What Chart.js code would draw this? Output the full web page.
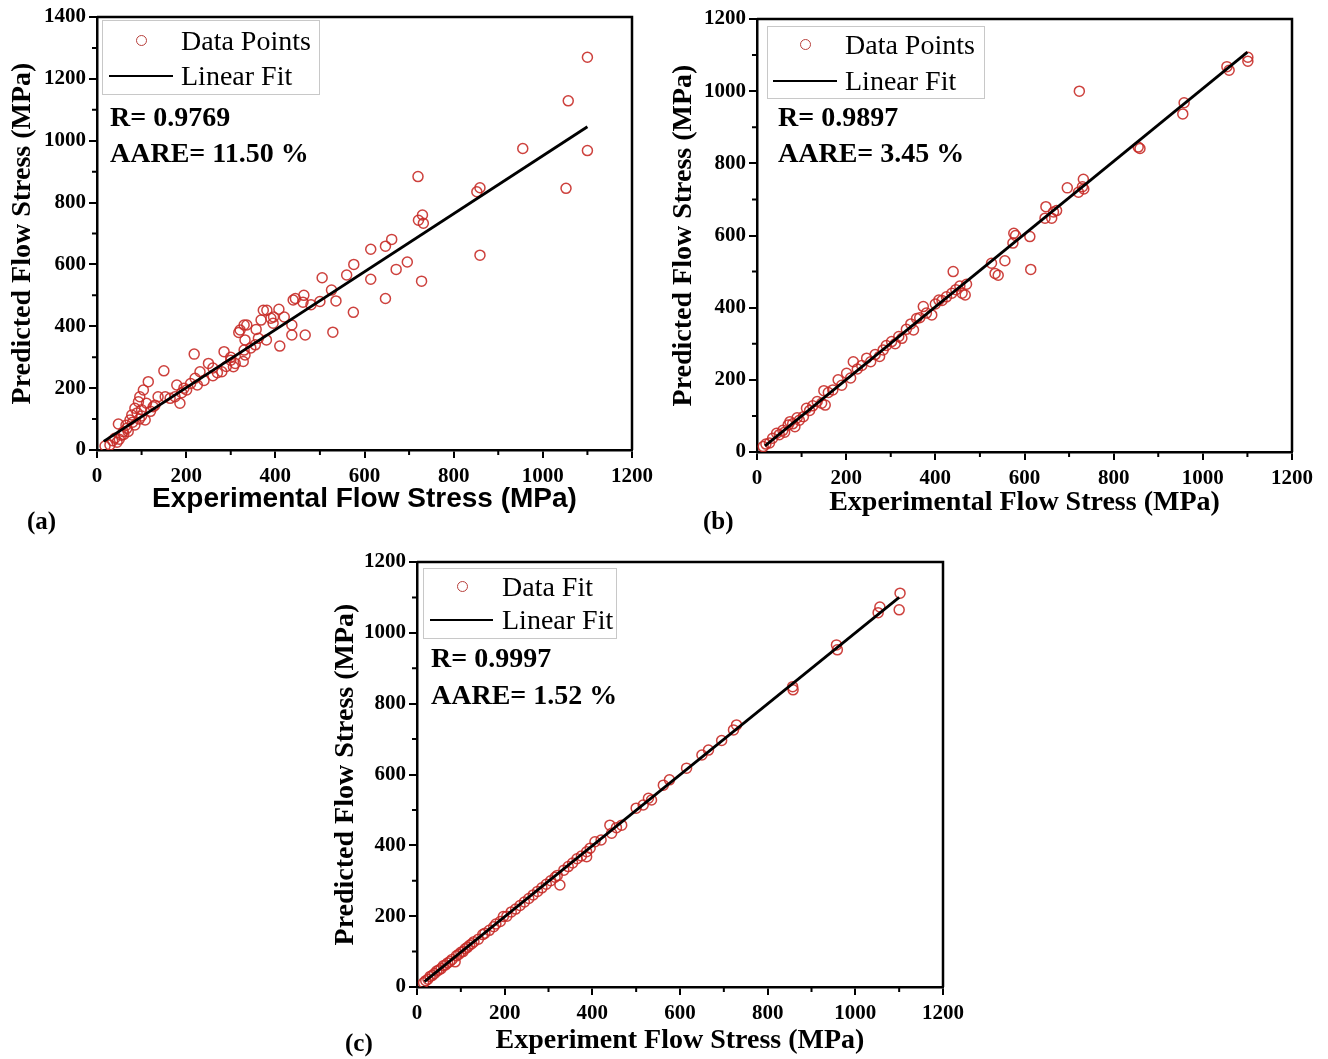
<!DOCTYPE html>
<html>
<head>
<meta charset="utf-8">
<script src="https://cdn.jsdelivr.net/npm/chart.js@4.4.1/dist/chart.umd.min.js"></script>
<style>
  body { margin: 0; background: #fff; }
  #page { position: relative; width: 1328px; height: 1059px; overflow: hidden; background: #fff; }
  canvas { position: absolute; }
  .lbl { position: absolute; font-family: "Liberation Serif", serif; color: #000; white-space: nowrap; line-height: 1; }
  .box { position: absolute; border: 1px solid #c8c8c8; background: #fff; }
  .dot { position: absolute; width: 9px; height: 9px; border: 1.5px solid #b8403c; border-radius: 50%; }
  .seg { position: absolute; height: 0; border-top: 2.5px solid #000; }
</style>
</head>
<body>
<div id="page">
  <canvas id="chartA"></canvas>
  <canvas id="chartB"></canvas>
  <canvas id="chartC"></canvas>
</div>
<script>
// axis ranges and tick values
const xTicks = [0, 200, 400, 600, 800, 1000, 1200];
const yTicksA = [0, 200, 400, 600, 800, 1000, 1200, 1400];
const yTicksBC = [0, 200, 400, 600, 800, 1000, 1200];

// (a) experimental vs predicted
const pointsA = [
  [1100,1270],[1057,1129],[955,975],[1100,968],[1052,846],[720,884],[859,848],[852,835],
  [730,760],[721,743],[732,733],[661,681],[859,630],[728,546],[696,608],[671,584],
  [647,490],[614,649],[647,659],[614,552],[576,600],[560,566],[575,445],[536,482],
  [526,517],[529,381],[505,557],[464,500],[462,478],[440,485],[445,490],[437,404],
  [437,372],[467,372],[408,455],[410,336],[390,426],[396,430],[373,452],[357,390],
  [362,361],[380,356],[381,452],[368,420],[330,404],[318,380],[336,404],[332,356],
  [330,323],[321,388],[332,307],[328,286],[306,269],[285,318],[300,290],[310,280],
  [345,330],[355,340],[395,410],[420,430],[500,480],[480,470],[218,310],[250,280],
  [231,253],[220,232],[280,253],[270,250],[260,240],[240,225],[210,215],[195,200],
  [179,210],[186,151],[175,172],[201,194],[150,256],[153,172],[137,172],[164,167],
  [126,140],[190,185],[225,210],[290,270],[300,300],[260,265],[115,221],[104,194],
  [96,172],[93,156],[111,151],[85,135],[78,113],[108,97],[85,81],[48,84],
  [67,70],[55,48],[40,38],[18,13],[29,16],[74,97],[59,59],[90,120],
  [100,110],[70,60],[60,50],[50,35],[35,30],[45,25],[80,90],[95,100],
  [65,80],[100,130],[120,125],[130,145]
];
const fitA = [[15,28],[1100,1045]];

// (b)
const pointsB = [
  [14,15],[20,22],[28,25],[35,38],[44,52],[50,48],[58,60],[62,55],[70,75],[74,84],
  [80,78],[85,70],[90,95],[95,88],[104,98],[111,121],[118,115],[125,128],[135,140],[145,135],
  [150,170],[153,130],[160,165],[170,172],[182,200],[190,185],[201,218],[210,205],[216,250],[225,230],
  [235,240],[246,260],[255,250],[265,270],[275,265],[283,283],[290,295],[302,306],[310,300],[318,320],
  [325,315],[335,340],[345,355],[351,338],[358,370],[365,372],[373,403],[380,385],[392,380],[400,410],
  [408,421],[415,420],[425,430],[437,440],[440,500],[446,450],[455,460],[460,440],[467,435],[470,465],
  [526,523],[534,495],[541,490],[556,530],[574,579],[576,606],[580,600],[612,597],[614,506],[646,648],
  [648,680],[661,648],[665,665],[672,669],[696,732],[721,720],[723,1000],[730,735],[733,729],[732,756],
  [855,845],[859,841],[955,937],[958,968],[1054,1068],[1059,1058],[1101,1094],[1101,1083]
];
const fitB = [[18,17],[1100,1108]];

// (c)
const pointsC = [
  [15,12],[20,18],[25,22],[30,30],[35,33],[40,38],[45,45],[50,48],[55,52],[60,60],
  [65,62],[70,68],[75,72],[80,78],[87,71],[90,88],[95,92],[100,98],[105,100],[110,108],
  [115,112],[120,118],[125,122],[130,128],[140,135],[150,148],[155,152],[165,160],[175,170],[180,178],
  [190,185],[197,199],[205,200],[215,212],[225,220],[235,230],[245,240],[255,250],[265,260],[275,270],
  [285,280],[295,290],[305,300],[315,310],[320,315],[326,288],[335,330],[345,340],[355,350],[365,362],
  [375,370],[387,368],[387,382],[395,392],[406,410],[420,415],[440,457],[444,434],[455,450],[467,457],
  [500,505],[516,514],[528,533],[535,528],[562,570],[576,585],[615,618],[650,655],[665,669],[695,696],
  [722,726],[729,740],[857,848],[858,839],[957,966],[959,952],[1052,1057],[1056,1073],[1100,1065],[1102,1112]
];
const fitC = [[17,15],[1100,1100]];

const serif = 'Liberation Serif';
const RED = 'rgba(200,44,40,0.9)';

const toXY = arr => arr.map(p => ({ x: p[0], y: p[1] }));

// top/right frame and the short minor ticks
const frameMinor = {
  id: 'frameMinor',
  afterDraw(chart) {
    const { ctx, chartArea: a, scales: { x, y } } = chart;
    ctx.save();
    ctx.strokeStyle = '#000';
    ctx.lineWidth = 2.5;
    ctx.beginPath();
    ctx.moveTo(a.left, a.top);
    ctx.lineTo(a.right, a.top);
    ctx.lineTo(a.right, a.bottom);
    ctx.stroke();
    ctx.lineWidth = 2;
    ctx.beginPath();
    for (let v = 100; v < x.max; v += 200) {
      const px = x.getPixelForValue(v);
      ctx.moveTo(px, a.bottom); ctx.lineTo(px, a.bottom + 5);
    }
    for (let v = 100; v < y.max; v += 200) {
      const py = y.getPixelForValue(v);
      ctx.moveTo(a.left, py); ctx.lineTo(a.left - 5, py);
    }
    ctx.stroke();
    ctx.restore();
  }
};

function makeChart(id, cfg) {
  const cv = document.getElementById(id);
  cv.style.left = cfg.left + 'px';
  cv.style.top = cfg.top + 'px';
  cv.width = cfg.w;
  cv.height = cfg.h;
  cv.style.width = cfg.w + 'px';
  cv.style.height = cfg.h + 'px';
  const tickFont = { family: serif, size: 21, weight: 'bold' };
  return new Chart(cv, {
    type: 'scatter',
    data: {
      datasets: [
        {
          data: toXY(cfg.fit), showLine: true, borderColor: '#000', borderWidth: 2.8,
          pointRadius: 0, order: 0
        },
        {
          data: toXY(cfg.points), showLine: false, pointStyle: 'circle', pointRadius: 5,
          pointBorderWidth: 1.5, borderColor: RED, pointBorderColor: RED,
          pointBackgroundColor: 'rgba(0,0,0,0)', order: 1
        }
      ]
    },
    options: {
      responsive: false,
      animation: false,
      devicePixelRatio: 1,
      layout: { padding: cfg.pad },
      plugins: { legend: { display: false }, tooltip: { enabled: false } },
      scales: {
        x: {
          type: 'linear', min: xTicks[0], max: xTicks[xTicks.length - 1],
          afterBuildTicks: s => { s.ticks = xTicks.map(v => ({ value: v })); },
          afterFit: s => { s.height = cfg.xh; },
          ticks: { color: '#000', font: tickFont, padding: 6, maxRotation: 0, callback: v => String(v) },
          grid: { drawOnChartArea: false, drawTicks: true, tickLength: 8, color: '#000', lineWidth: 2 },
          border: { color: '#000', width: 2.5 },
          title: { display: true, text: cfg.xTitle, color: '#000', font: cfg.xFont, padding: { top: 0, bottom: cfg.xTitlePad } }
        },
        y: {
          type: 'linear', min: cfg.yTicks[0], max: cfg.yTicks[cfg.yTicks.length - 1],
          afterBuildTicks: s => { s.ticks = cfg.yTicks.map(v => ({ value: v })); },
          afterFit: s => { s.width = 97; },
          ticks: { color: '#000', font: tickFont, padding: 3, callback: v => String(v) },
          grid: { drawOnChartArea: false, drawTicks: true, tickLength: 8, color: '#000', lineWidth: 2 },
          border: { color: '#000', width: 2.5 },
          title: { display: true, text: 'Predicted Flow Stress (MPa)', color: '#000', font: { family: serif, size: 28, weight: 'bold' }, padding: { top: cfg.yTitlePad, bottom: 0 } }
        }
      }
    },
    plugins: [frameMinor]
  });
}

makeChart('chartA', {
  left: 0, top: 0, w: 660, h: 540, pad: { left: 0, right: 28, top: 17, bottom: 20 }, xh: 70,
  points: pointsA, fit: fitA, yTicks: yTicksA,
  xTitle: 'Experimental Flow Stress (MPa)', xFont: { family: 'Liberation Sans', size: 28, weight: 'bold' },
  xTitlePad: 4, yTitlePad: 6
});
makeChart('chartB', {
  left: 660, top: 0, w: 668, h: 540, pad: { left: 0, right: 36, top: 19, bottom: 18 }, xh: 70,
  points: pointsB, fit: fitB, yTicks: yTicksBC,
  xTitle: 'Experimental Flow Stress (MPa)', xFont: { family: serif, size: 28, weight: 'bold' },
  xTitlePad: 2, yTitlePad: 7
});
makeChart('chartC', {
  left: 320, top: 545, w: 660, h: 514, pad: { left: 0, right: 37, top: 17, bottom: 0 }, xh: 72,
  points: pointsC, fit: fitC, yTicks: yTicksBC,
  xTitle: 'Experiment Flow Stress (MPa)', xFont: { family: serif, size: 28, weight: 'bold' },
  xTitlePad: 1, yTitlePad: 9
});

// legends, statistics and panel letters
const page = document.getElementById('page');
function add(cls, style, text) {
  const d = document.createElement('div');
  d.className = cls;
  Object.assign(d.style, style);
  if (text) d.textContent = text;
  page.appendChild(d);
  return d;
}
function legend(o) {
  add('box', { left: o.bx + 'px', top: o.by + 'px', width: o.bw + 'px', height: o.bh + 'px' });
  add('dot', { left: (o.dx - 6) + 'px', top: (o.dy - 6) + 'px' });
  add('seg', { left: o.l1 + 'px', top: (o.ly - 1) + 'px', width: (o.l2 - o.l1) + 'px' });
  add('lbl', { left: o.tx + 'px', top: (o.dy - 14) + 'px', fontSize: '28px' }, o.name);
  add('lbl', { left: o.tx + 'px', top: (o.ly - 14) + 'px', fontSize: '28px' }, 'Linear Fit');
  add('lbl', { left: o.rx + 'px', top: (o.ry - 14) + 'px', fontSize: '28px', fontWeight: 'bold' }, o.r);
  add('lbl', { left: o.rx + 'px', top: (o.ay - 14) + 'px', fontSize: '28px', fontWeight: 'bold' }, o.aare);
}
legend({ bx: 102, by: 20, bw: 216, bh: 73, dx: 142, dy: 41, l1: 109, l2: 173, ly: 76, tx: 181,
  name: 'Data Points', rx: 110, ry: 117, ay: 153, r: 'R= 0.9769', aare: 'AARE= 11.50 %' });
legend({ bx: 767, by: 26, bw: 216, bh: 71, dx: 806, dy: 45, l1: 773, l2: 837, ly: 81, tx: 845,
  name: 'Data Points', rx: 778, ry: 117, ay: 153, r: 'R= 0.9897', aare: 'AARE= 3.45 %' });
legend({ bx: 423, by: 568, bw: 192, bh: 69, dx: 463, dy: 587, l1: 430, l2: 493, ly: 620, tx: 502,
  name: 'Data Fit', rx: 431, ry: 658, ay: 695, r: 'R= 0.9997', aare: 'AARE= 1.52 %' });

add('lbl', { left: '27px', top: '508px', fontSize: '25px', fontWeight: 'bold' }, '(a)');
add('lbl', { left: '703px', top: '508px', fontSize: '25px', fontWeight: 'bold' }, '(b)');
add('lbl', { left: '345px', top: '1030px', fontSize: '25px', fontWeight: 'bold' }, '(c)');
</script>
</body>
</html>
